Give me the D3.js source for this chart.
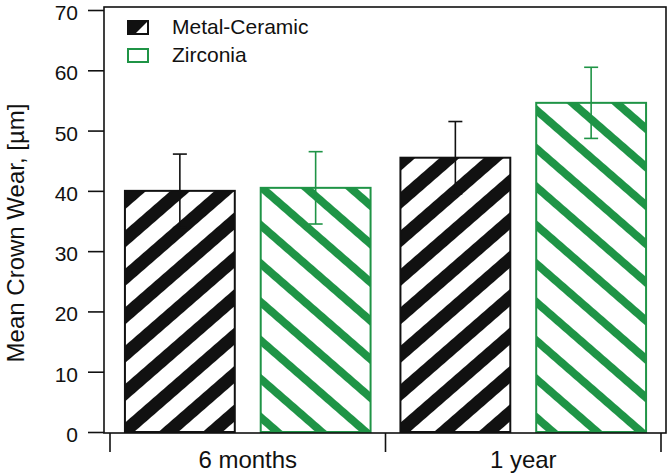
<!DOCTYPE html>
<html>
<head>
<meta charset="utf-8">
<script src="https://cdn.jsdelivr.net/npm/d3@7"></script>
<style>
  body { margin: 0; background: #fff; }
  svg { display: block; font-family: "Liberation Sans", Arial, sans-serif; }
</style>
</head>
<body>
<svg width="669" height="475"></svg>
<script>
// data
var categories = ["6 months", "1 year"];
var series = ["Metal-Ceramic", "Zirconia"];
var metalCeramic = [40.0, 45.5];
var zirconia = [40.5, 54.6];
var metalCeramicErr = [6.1, 6.0];
var zirconiaErr = [6.0, 5.9];
var yTicks = [0, 10, 20, 30, 40, 50, 60, 70];

var colors = { "Metal-Ceramic": "#111111", "Zirconia": "#1f9446" };

var svg = d3.select("svg");
var box = { left: 104, right: 666, top: 7, bottom: 433 };

var y = d3.scaleLinear().domain([0, 70]).range([432, 10]);
var x0 = d3.scaleBand().domain(categories).range([110, 661]).padding(0);
var x1 = d3.scaleBand().domain(series).range([0, x0.bandwidth()])
           .paddingInner(0.191).paddingOuter(0.11);

// hatch patterns
var defs = svg.append("defs");
function hatch(id, color, period, thick, angle) {
  var p = defs.append("pattern")
      .attr("id", id)
      .attr("patternUnits", "userSpaceOnUse")
      .attr("width", period)
      .attr("height", 40)
      .attr("patternTransform", "rotate(" + angle + ")");
  p.append("rect").attr("width", period).attr("height", 40).attr("fill", "#fff");
  p.append("rect").attr("width", thick).attr("height", 40).attr("fill", color);
}
hatch("hatch-mc", colors["Metal-Ceramic"], 29, 13, 49);
hatch("hatch-zr", colors["Zirconia"], 29, 8, -49);

var rows = [];
categories.forEach(function(c, i) {
  rows.push({ cat: c, s: "Metal-Ceramic", v: metalCeramic[i], e: metalCeramicErr[i] });
  rows.push({ cat: c, s: "Zirconia", v: zirconia[i], e: zirconiaErr[i] });
});

var bars = svg.append("g").selectAll("g")
    .data(rows)
    .enter().append("g")
    .attr("transform", function(d) { return "translate(" + (x0(d.cat) + x1(d.s)) + ",0)"; });

bars.append("rect")
    .attr("x", 0)
    .attr("y", function(d) { return y(d.v); })
    .attr("width", x1.bandwidth())
    .attr("height", function(d) { return y(0) - y(d.v); })
    .attr("fill", function(d) { return d.s === "Zirconia" ? "url(#hatch-zr)" : "url(#hatch-mc)"; })
    .attr("stroke", function(d) { return colors[d.s]; })
    .attr("stroke-width", 2);

// error bars
var cap = 7;
bars.each(function(d) {
  var g = d3.select(this), cx = x1.bandwidth() / 2;
  var lo = y(d.v - d.e), hi = y(d.v + d.e);
  g.append("line").attr("x1", cx).attr("x2", cx).attr("y1", lo).attr("y2", hi);
  g.append("line").attr("x1", cx - cap).attr("x2", cx + cap).attr("y1", hi).attr("y2", hi);
  g.append("line").attr("x1", cx - cap).attr("x2", cx + cap).attr("y1", lo).attr("y2", lo);
  g.selectAll("line").attr("stroke", colors[d.s]).attr("stroke-width", 1.6);
});

// frame
svg.append("rect")
    .attr("x", box.left).attr("y", box.top)
    .attr("width", box.right - box.left).attr("height", box.bottom - box.top)
    .attr("fill", "none").attr("stroke", "#111").attr("stroke-width", 1.6);

// y axis
var yAxis = d3.axisLeft(y).tickValues(yTicks).tickSize(16).tickPadding(10);
var yg = svg.append("g").attr("transform", "translate(" + box.left + ",0)").call(yAxis);
yg.select(".domain").remove();
yg.selectAll("line").attr("stroke", "#111").attr("stroke-width", 1.6);
yg.selectAll("text").attr("font-size", 21).attr("fill", "#111").attr("dy", "0.45em")
  .attr("font-family", "Liberation Sans, Arial, sans-serif");

// category axis
var xAxis = d3.axisBottom(x0).tickSize(0).tickPadding(0);
var xg = svg.append("g").attr("transform", "translate(0," + box.bottom + ")").call(xAxis);
xg.select(".domain").remove();
xg.selectAll("text").attr("font-size", 24).attr("fill", "#111").attr("dy", 0).attr("y", 35)
  .attr("font-family", "Liberation Sans, Arial, sans-serif");
var edges = [x0.range()[0]].concat(categories.map(function(c) { return x0(c) + x0.bandwidth(); }));
xg.selectAll(".sep").data(edges).enter().append("line")
  .attr("x1", function(d) { return d; }).attr("x2", function(d) { return d; })
  .attr("y1", 0).attr("y2", 19)
  .attr("stroke", "#111").attr("stroke-width", 1.6);

// y label
svg.append("text")
   .attr("transform", "translate(24,233) rotate(-90)")
   .attr("text-anchor", "middle")
   .attr("font-size", 24)
   .attr("fill", "#111")
   .text("Mean Crown Wear, [\u00b5m]");

// legend
var leg = svg.append("g").attr("transform", "translate(127,20)");
var li = leg.selectAll("g").data(series).enter().append("g")
    .attr("transform", function(d, i) { return "translate(0," + (i * 28) + ")"; });
li.append("rect")
  .attr("x", 1).attr("y", 1).attr("width", 20).attr("height", 13)
  .attr("fill", function(d) { return d === "Zirconia" ? "#fff" : colors[d]; })
  .attr("stroke", function(d) { return colors[d]; })
  .attr("stroke-width", 2);
li.filter(function(d) { return d === "Metal-Ceramic"; })
  .append("path")
  .attr("d", "M20,2 L20,13 L9,13 Z")
  .attr("fill", "#fff");
li.append("text")
  .attr("x", 45).attr("y", 14)
  .attr("font-size", 21)
  .attr("fill", "#111")
  .text(function(d) { return d; });
</script>
</body>
</html>
